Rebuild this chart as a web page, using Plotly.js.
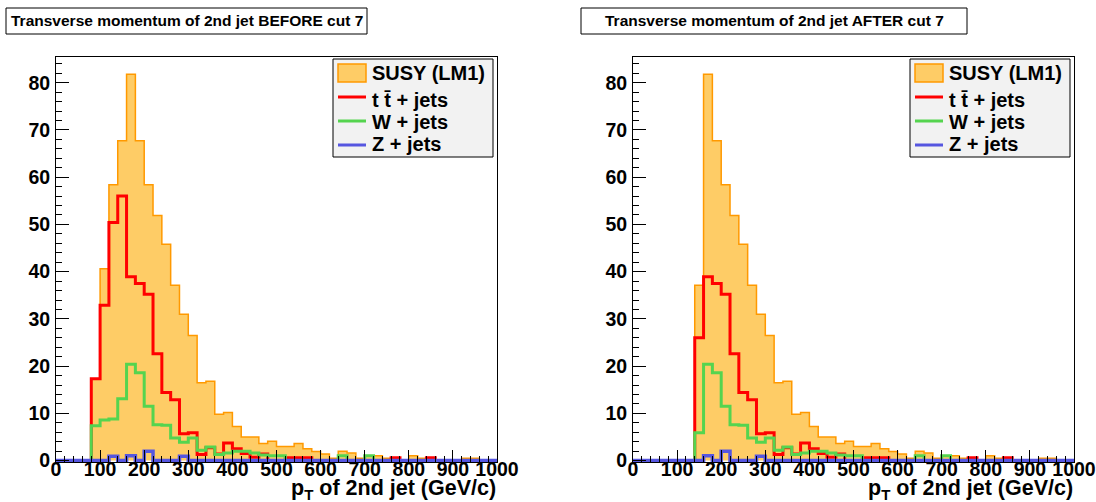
<!DOCTYPE html>
<html>
<head>
<meta charset="utf-8">
<script src="https://cdn.plot.ly/plotly-3.0.1.min.js"></script>
<style>
  html, body { margin: 0; padding: 0; background: #ffffff; }
  #chart { width: 1096px; height: 502px; }
</style>
</head>
<body>
<div id="chart"></div>
<script>
// Bin edges of the pT histograms (GeV/c), 20 GeV bins from 0 to 1000
const binEdges = [0, 20, 40, 60, 80, 100, 120, 140, 160, 180, 200, 220, 240, 260, 280, 300,
  320, 340, 360, 380, 400, 420, 440, 460, 480, 500, 520, 540, 560, 580, 600, 620, 640, 660,
  680, 700, 720, 740, 760, 780, 800, 820, 840, 860, 880, 900, 920, 940, 960, 980, 1000];

// Bin contents before cut 7
const susyBefore = [0, 0, 0, 0, 17.2, 40.6, 58.4, 67.7, 81.8, 67.7, 58.4, 51.9, 45.8, 37.1, 31.0,
  26.5, 16.5, 16.8, 9.8, 10.2, 7.2, 5.0, 5.0, 3.6, 4.1, 3.0, 3.0, 3.6, 2.5, 1.9, 1.4, 0.5, 2.0,
  1.6, 0.5, 1.0, 1.0, 0.5, 0.5, 0, 1.0, 0.5, 0.5, 0, 0, 0, 0.5, 0.5, 0, 0];
const ttbarBefore = [0, 0, 0, 0, 17.3, 32.9, 50.4, 56.0, 38.9, 37.5, 35.2, 22.6, 14.4, 12.9, 5.7,
  5.9, 1.3, 2.7, 1.4, 3.7, 2.5, 1.5, 0.7, 1.4, 0, 0, 0.6, 0.6, 0.6, 0, 0, 0, 0, 0, 0, 0, 0, 0,
  0.6, 0, 0, 0, 0.6, 0, 0, 0, 0, 0, 0, 0];
const wjetsBefore = [0, 0, 0, 0, 7.4, 8.6, 8.8, 13.1, 20.4, 18.6, 11.5, 7.6, 7.5, 4.8, 3.9, 4.8,
  2.2, 2.9, 1.3, 1.6, 2.0, 2.0, 1.6, 1.2, 1.0, 1.0, 0, 0, 0, 0, 0, 0, 1.0, 0, 0, 1.0, 0, 0, 0,
  0, 0, 0, 0, 0, 0, 0, 0, 0, 0, 0];
const zjetsBefore = [0, 0, 0, 0, 0, 0, 0.9, 0, 1.0, 0, 2.0, 0, 0, 0, 0.9, 0, 0, 0, 0, 0, 0, 0,
  0, 0, 0, 0, 0, 0, 0, 0, 0, 0, 0, 0, 0, 0, 0, 0, 0, 0, 0, 0, 0, 0, 0, 0, 0, 0, 0, 0];

// Bin contents after cut 7
const susyAfter = [0, 0, 0, 0, 0, 0, 0, 37.1, 81.8, 67.7, 58.4, 51.9, 45.8, 37.1, 31.0,
  26.5, 16.5, 16.8, 9.8, 10.2, 7.2, 5.0, 5.0, 3.6, 4.1, 3.0, 3.0, 3.6, 2.5, 1.9, 1.4, 0.5, 2.0,
  1.6, 0.5, 1.0, 1.0, 0.5, 0.5, 0, 1.0, 0.5, 0.5, 0, 0, 0, 0.5, 0.5, 0, 0];
const ttbarAfter = [0, 0, 0, 0, 0, 0, 0, 26.0, 38.9, 37.5, 35.2, 22.6, 14.4, 12.9, 5.7,
  5.9, 1.3, 2.7, 1.4, 3.7, 2.5, 1.5, 0.7, 1.4, 0, 0, 0.6, 0.6, 0.6, 0, 0, 0, 0, 0, 0, 0, 0, 0,
  0.6, 0, 0, 0, 0.6, 0, 0, 0, 0, 0, 0, 0];
const wjetsAfter = [0, 0, 0, 0, 0, 0, 0, 5.9, 20.4, 18.6, 11.5, 7.6, 7.5, 4.8, 3.9, 4.8,
  2.2, 2.9, 1.3, 1.6, 2.0, 2.0, 1.6, 1.2, 1.0, 1.0, 0, 0, 0, 0, 0, 0, 1.0, 0, 0, 1.0, 0, 0, 0,
  0, 0, 0, 0, 0, 0, 0, 0, 0, 0, 0];
const zjetsAfter = [0, 0, 0, 0, 0, 0, 0, 0, 1.0, 0, 2.0, 0, 0, 0, 0.9, 0, 0, 0, 0, 0, 0, 0,
  0, 0, 0, 0, 0, 0, 0, 0, 0, 0, 0, 0, 0, 0, 0, 0, 0, 0, 0, 0, 0, 0, 0, 0, 0, 0, 0, 0];

const panelTitles = ['Transverse momentum of 2nd jet BEFORE cut 7',
                     'Transverse momentum of 2nd jet AFTER cut 7'];
const sampleNames = ['SUSY (LM1)', 't t\u0304 + jets', 'W + jets', 'Z + jets'];
const xTitle = 'p<sub>T</sub> of 2nd jet (GeV/c)';

const FONT = 'Liberation Sans, Arial, Helvetica, sans-serif';
const W = 1096, H = 502;
const px = v => v / W;
const py = v => 1 - v / H;

const colors = {
  susyFill: '#fecc66',
  susyLine: '#ff9900',
  ttbar: '#ff0000',
  wjets: '#55d44f',
  zjets: '#5656e0'
};

// step-histogram outline: one point per bin edge, last content repeated
function stepY(vals) { return vals.concat([vals[vals.length - 1]]); }

function histTraces(susy, tt, w, z, xa, ya) {
  return [
    { x: binEdges, y: stepY(susy), xaxis: xa, yaxis: ya, type: 'scatter', mode: 'lines',
      line: { shape: 'hv', color: colors.susyLine, width: 1.5 },
      fill: 'tozeroy', fillcolor: colors.susyFill, showlegend: false, hoverinfo: 'skip' },
    { x: binEdges, y: stepY(tt), xaxis: xa, yaxis: ya, type: 'scatter', mode: 'lines',
      line: { shape: 'hv', color: colors.ttbar, width: 3 }, showlegend: false, hoverinfo: 'skip' },
    { x: binEdges, y: stepY(w), xaxis: xa, yaxis: ya, type: 'scatter', mode: 'lines',
      line: { shape: 'hv', color: colors.wjets, width: 3 }, showlegend: false, hoverinfo: 'skip' },
    { x: binEdges, y: stepY(z), xaxis: xa, yaxis: ya, type: 'scatter', mode: 'lines',
      line: { shape: 'hv', color: colors.zjets, width: 3.5 }, showlegend: false, hoverinfo: 'skip' }
  ];
}

const data = histTraces(susyBefore, ttbarBefore, wjetsBefore, zjetsBefore, 'x', 'y')
  .concat(histTraces(susyAfter, ttbarAfter, wjetsAfter, zjetsAfter, 'x2', 'y2'));

const frameTop = 57, frameBottom = 462;
const panels = [{ left: 56, right: 497 }, { left: 633, right: 1074 }];

function xAxis(p) {
  return {
    domain: [px(p.left), px(p.right)], range: [0, 1000], anchor: p === panels[0] ? 'y' : 'y2',
    showgrid: false, zeroline: false, showline: true, mirror: true, linecolor: '#000', linewidth: 1,
    ticks: 'inside', ticklen: 12, tickwidth: 1, tickcolor: '#000', dtick: 100, tick0: 0,
    minor: { ticks: 'inside', ticklen: 6, dtick: 20, tickcolor: '#000', tickwidth: 1 },
    tickfont: { family: FONT, size: 19.5, color: '#000', weight: 'bold' },
    ticklabelstandoff: -10
  };
}
function yAxis(p, xa) {
  return {
    domain: [py(frameBottom), py(frameTop)], range: [-0.3, 85.45], anchor: xa,
    showgrid: false, zeroline: false, showline: true, mirror: true, linecolor: '#000', linewidth: 1,
    ticks: 'inside', ticklen: 13, tickwidth: 1, tickcolor: '#000', dtick: 10, tick0: 0,
    minor: { ticks: 'inside', ticklen: 6, dtick: 2, tickcolor: '#000', tickwidth: 1 },
    tickfont: { family: FONT, size: 19.5, color: '#000', weight: 'bold' },
    ticklabelstandoff: 1
  };
}

const shapes = [];
const annotations = [];

panels.forEach((p, i) => {
  const dx = p.left - panels[0].left;
  // title box
  const tb = i === 0 ? { x0: 6, x1: 367 } : { x0: 581, x1: 967 };
  shapes.push({ type: 'rect', xref: 'paper', yref: 'paper', x0: px(tb.x0), x1: px(tb.x1),
    y0: py(34), y1: py(8), line: { color: '#000', width: 1 }, fillcolor: '#fff' });
  annotations.push({ xref: 'paper', yref: 'paper', x: px((tb.x0 + tb.x1) / 2), y: py(21),
    xanchor: 'center', yanchor: 'middle', showarrow: false, text: panelTitles[i],
    font: { family: FONT, size: 15.5, color: '#000', weight: 'bold' } });

  // axis title
  annotations.push({ xref: 'paper', yref: 'paper', x: px(p.right + 1), y: py(489.5),
    xanchor: 'right', yanchor: 'middle', showarrow: false, text: xTitle,
    font: { family: FONT, size: 21.5, color: '#000', weight: 'bold' } });

  // legend box
  const lx0 = 333 + dx, lx1 = 493 + dx;
  shapes.push({ type: 'rect', xref: 'paper', yref: 'paper', x0: px(lx0), x1: px(lx1),
    y0: py(157), y1: py(59), line: { color: '#000', width: 1 }, fillcolor: '#f2f2f2' });
  // SUSY entry: filled box
  shapes.push({ type: 'rect', xref: 'paper', yref: 'paper', x0: px(338 + dx), x1: px(366 + dx),
    y0: py(82), y1: py(64), line: { color: colors.susyLine, width: 1.5 }, fillcolor: colors.susyFill });
  const lineRows = [{ y: 97, c: colors.ttbar }, { y: 121, c: colors.wjets }, { y: 145, c: colors.zjets }];
  lineRows.forEach(r => {
    shapes.push({ type: 'line', xref: 'paper', yref: 'paper', x0: px(338 + dx), x1: px(366 + dx),
      y0: py(r.y), y1: py(r.y), line: { color: r.c, width: 3 } });
  });
  const textRows = [73, 100, 121.5, 144.5];
  sampleNames.forEach((name, k) => {
    annotations.push({ xref: 'paper', yref: 'paper', x: px(370 + dx), y: py(textRows[k]),
      xanchor: 'left', yanchor: 'middle', showarrow: false, text: name,
      font: { family: FONT, size: 20, color: '#000', weight: 'bold' } });
  });
});

const layout = {
  width: W, height: H,
  margin: { l: 0, r: 0, t: 0, b: 0 },
  paper_bgcolor: '#fff', plot_bgcolor: '#fff',
  font: { family: FONT, color: '#000', weight: 'bold' },
  showlegend: false,
  xaxis: xAxis(panels[0]), yaxis: yAxis(panels[0], 'x'),
  xaxis2: xAxis(panels[1]), yaxis2: yAxis(panels[1], 'x2'),
  shapes: shapes, annotations: annotations
};

Plotly.newPlot('chart', data, layout, { staticPlot: true, displayModeBar: false });
</script>
</body>
</html>
